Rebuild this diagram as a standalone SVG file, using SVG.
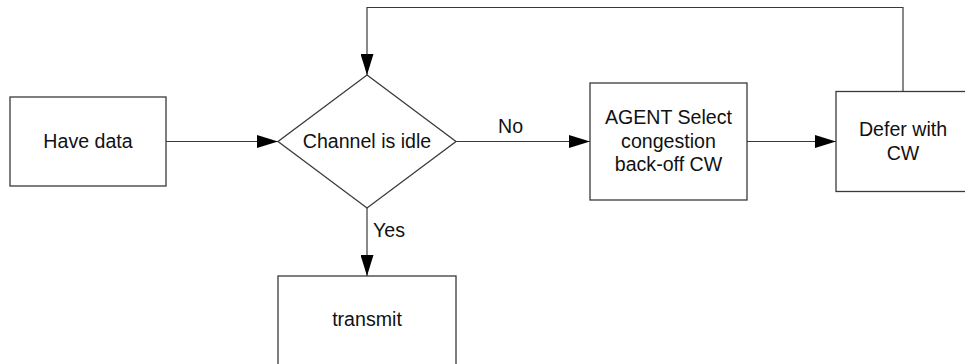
<svg xmlns="http://www.w3.org/2000/svg" width="965" height="364" viewBox="0 0 965 364">
  <style>
    .box { fill: #ffffff; stroke: #3a3a3a; stroke-width: 1.3; }
    .edge { fill: none; stroke: #3a3a3a; stroke-width: 1.2; }
    text { font-family: "Liberation Sans", Arial, sans-serif; font-size: 19.6px; fill: #111111; }
    .c { text-anchor: middle; }
  </style>
  <defs>
    <marker id="arrow" viewBox="0 0 21 13" refX="21" refY="6.5" markerWidth="21" markerHeight="13" markerUnits="userSpaceOnUse" orient="auto">
      <path d="M0,0 L21,6.5 L0,13 Z" fill="#000000"/>
    </marker>
  </defs>

  <rect width="965" height="364" fill="#ffffff"/>

  <g id="connectors">
    <path class="edge" d="M166,141.5 L278,141.5" marker-end="url(#arrow)"/>
    <path class="edge" d="M456,141.5 L590,141.5" marker-end="url(#arrow)"/>
    <path class="edge" d="M747,141.5 L836,141.5" marker-end="url(#arrow)"/>
    <path class="edge" d="M367,208 L367,276" marker-end="url(#arrow)"/>
    <path class="edge" d="M903,91.5 L903,7.5 L367,7.5 L367,75" marker-end="url(#arrow)"/>
    <text x="498" y="133">No</text>
    <text x="373" y="237">Yes</text>
  </g>

  <g id="have-data">
    <rect class="box" x="10" y="97" width="156" height="89"/>
    <text class="c" x="88" y="148">Have data</text>
  </g>

  <g id="channel-idle">
    <polygon class="box" points="367,75 456,141.5 367,208 278,141.5"/>
    <text class="c" x="367" y="148">Channel is idle</text>
  </g>

  <g id="transmit">
    <rect class="box" x="278" y="276" width="178" height="100"/>
    <text class="c" x="367" y="326">transmit</text>
  </g>

  <g id="agent-select">
    <rect class="box" x="590" y="83" width="157" height="117"/>
    <text class="c" x="668.5" y="124">AGENT Select</text>
    <text class="c" x="668.5" y="147.5">congestion</text>
    <text class="c" x="668.5" y="171">back-off CW</text>
  </g>

  <g id="defer">
    <rect class="box" x="836" y="91.5" width="140" height="100"/>
    <text class="c" x="903" y="136">Defer with</text>
    <text class="c" x="903" y="159.5">CW</text>
  </g>
</svg>
